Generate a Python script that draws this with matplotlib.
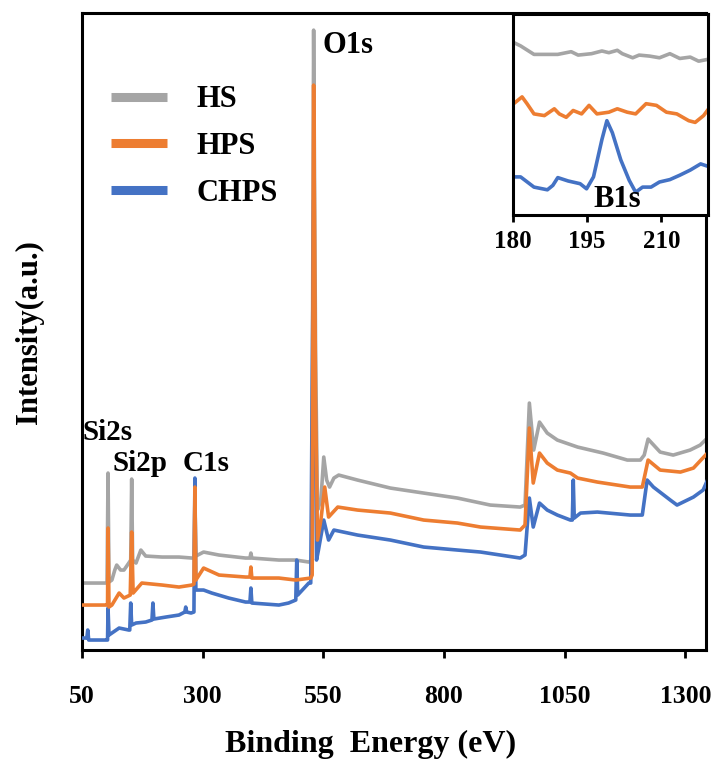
import matplotlib
matplotlib.use('Agg')
import matplotlib.pyplot as plt
from matplotlib.lines import Line2D

plt.rcParams['font.family'] = ['Liberation Serif', 'DejaVu Serif']
plt.rcParams['font.weight'] = 'bold'

# colours of the three samples (Excel palette)
C_HS, C_HPS, C_CHPS = '#A5A5A5', '#ED7D31', '#4472C4'

# ---- survey spectra (eV, a.u.) ----
hs_ev = [50, 100, 102, 104, 106, 112, 118, 122, 130, 137, 147, 151, 153, 155, 162, 172, 182, 216, 251,
         278, 282, 284, 286, 302, 334, 389, 398, 400, 402, 458, 493, 520, 526, 530, 534, 538, 545, 551,
         557, 563, 572, 582, 621, 689, 758, 828, 896, 958, 968, 977, 986, 998, 1014, 1035, 1077, 1130,
         1180, 1207, 1215, 1223, 1248, 1275, 1310, 1331, 1348]
hs_i = [67, 67, 67, 177, 68, 70, 80, 85, 80, 80, 87, 90, 171, 90, 87, 100, 94, 93, 93,
        92, 92, 150, 94, 98, 95, 92, 92, 97, 92, 90, 90, 88, 90, 620, 300, 140, 150, 193,
        170, 163, 172, 175, 170, 162, 157, 152, 145, 143, 145, 247, 200, 228, 217, 210, 203, 197,
        190, 190, 195, 211, 198, 195, 200, 205, 213]

hps_ev = [50, 101, 103, 104, 106, 112, 127, 137, 150, 153, 156, 174, 216, 251, 278, 282, 284, 286, 302,
          334, 389, 398, 400, 402, 458, 493, 524, 527, 530, 534, 538, 545, 553, 561, 580, 621, 689, 758,
          828, 876, 958, 968, 977, 985, 998, 1014, 1035, 1062, 1077, 1118, 1186, 1211, 1223, 1248,
          1290, 1317, 1348]
hps_i = [45, 45, 45, 122, 43, 45, 57, 52, 55, 118, 57, 67, 65, 63, 65, 66, 163, 70, 82,
         75, 73, 73, 83, 72, 72, 70, 72, 75, 565, 250, 110, 130, 163, 133, 143, 140, 137, 130,
         127, 123, 120, 125, 222, 167, 197, 187, 180, 177, 172, 168, 163, 163, 190, 180,
         178, 182, 198]

chps_ev = [50, 60, 62, 64, 101, 103, 104, 106, 127, 147, 149, 151, 153, 162, 182, 195, 197, 199, 224,
           251, 263, 265, 267, 276, 282, 284, 286, 302, 319, 354, 389, 398, 400, 402, 458, 478, 493,
           495, 497, 520, 524, 530, 536, 540, 551, 561, 572, 621, 689, 758, 828, 876, 958, 968, 977,
           985, 998, 1014, 1035, 1062, 1066, 1068, 1070, 1083, 1118, 1186, 1211, 1221, 1234, 1269,
           1283, 1317, 1337, 1348]
chps_i = [12, 12, 20, 10, 10, 10, 42, 15, 22, 20, 20, 47, 25, 27, 28, 30, 47, 31, 33,
          35, 38, 43, 38, 37, 38, 172, 60, 60, 57, 52, 48, 48, 62, 47, 45, 47, 50,
          90, 55, 67, 67, 450, 90, 100, 130, 110, 120, 115, 110, 103, 100, 98, 92, 95, 152,
          123, 147, 140, 135, 130, 130, 170, 132, 137, 138, 135, 135, 170, 163, 150,
          145, 153, 160, 172]

# ---- B1s region (inset) ----
hs_b_ev = [180.2, 181.6, 184.3, 186.4, 189.1, 191.8, 193.2, 195.9, 198.0, 199.4, 201.1, 202.1, 204.2,
           205.5, 207.6, 209.6, 211.7, 213.7, 215.8, 217.5, 219.2]
hs_b_i = [172.5, 169.1, 160.6, 160.6, 160.6, 163.3, 159.9, 161.3, 164.0, 162.3, 164.7, 161.3, 157.2,
          159.9, 158.9, 157.2, 161.3, 156.5, 157.9, 153.8, 155.5]
hps_b_ev = [180.2, 181.9, 182.9, 184.3, 186.4, 188.4, 189.4, 190.8, 192.2, 193.9, 195.4, 197.0, 199.4,
            201.1, 203.1, 204.8, 206.9, 209.0, 211.0, 213.1, 215.5, 216.8, 218.5, 219.6]
hps_b_i = [111.3, 118.1, 111.3, 101.1, 99.4, 106.2, 101.1, 97.7, 104.5, 101.1, 109.6, 101.1, 102.8,
           106.2, 102.8, 101.1, 111.3, 109.6, 102.8, 101.1, 94.3, 92.6, 99.4, 106.8]
chps_b_ev = [180.0, 181.6, 184.3, 187.0, 188.1, 189.1, 191.2, 193.6, 194.9, 196.3, 198.0, 199.0, 200.1,
             201.8, 203.5, 204.8, 206.2, 207.9, 209.6, 211.7, 213.7, 215.8, 217.9, 219.6, 220.6]
chps_b_i = [38.1, 38.1, 27.9, 25.2, 29.6, 37.4, 34.0, 31.3, 26.2, 38.1, 75.5, 94.3, 82.3,
            55.1, 34.7, 22.8, 27.9, 27.9, 33.0, 35.4, 39.8, 44.9, 51.1, 48.3, 46.6]

labels = ['HS', 'HPS', 'CHPS']
main_ticks = [50, 300, 550, 800, 1050, 1300]
inset_ticks = [180, 195, 210]

fig = plt.figure(figsize=(7.14, 7.6), dpi=100)
ax = fig.add_axes([0.1148, 0.1447, 0.874, 0.838])

ax.plot(hs_ev, hs_i, color=C_HS, lw=2.6, zorder=2)
ax.plot(chps_ev, chps_i, color=C_CHPS, lw=2.6, zorder=3)
ax.plot(hps_ev, hps_i, color=C_HPS, lw=2.6, zorder=4)

ax.set_xlim(50, 1343)
ax.set_ylim(0, 637)
ax.set_xticks(main_ticks)
ax.set_yticks([])
ax.tick_params(axis='x', direction='out', length=6, width=2, labelsize=18.5, pad=19)
for s in ax.spines.values():
    s.set_linewidth(2.2)
ax.set_xlabel('Binding  Energy (eV)', fontsize=23, fontweight='bold')
ax.xaxis.set_label_coords(0.463, -0.126)
ax.set_ylabel('Intensity(a.u.)', fontsize=22, fontweight='bold', labelpad=27)

# peak names
ax.text(549, 605, 'O1s', fontsize=22, fontweight='bold', va='center')
ax.text(52, 218, 'Si2s', fontsize=21, fontweight='bold', va='center')
ax.text(113, 187, 'Si2p', fontsize=21, fontweight='bold', va='center')
ax.text(259, 187, 'C1s', fontsize=21, fontweight='bold', va='center')

# legend
hnd = [Line2D([], [], color=c, lw=6.5, solid_capstyle='butt') for c in (C_HS, C_HPS, C_CHPS)]
ax.legend(hnd, labels, loc='upper left', bbox_to_anchor=(0.002, 0.93), frameon=False,
          fontsize=22, handlelength=1.85, handletextpad=0.95, labelspacing=0.58)

# inset: B1s
ins = fig.add_axes([0.718, 0.7171, 0.273, 0.2645])
ins.plot(hs_b_ev, hs_b_i, color=C_HS, lw=2.6)
ins.plot(hps_b_ev, hps_b_i, color=C_HPS, lw=2.6)
ins.plot(chps_b_ev, chps_b_i, color=C_CHPS, lw=2.6)
ins.set_xlim(180, 219.3)
ins.set_ylim(0, 201)
ins.set_xticks(inset_ticks)
ins.set_yticks([])
ins.tick_params(axis='x', direction='out', length=5, width=2, labelsize=18, pad=6)
for s in ins.spines.values():
    s.set_linewidth(2.2)
ins.text(201, 1, 'B1s', fontsize=22, fontweight='bold', ha='center', va='bottom')

fig.savefig('out.png', dpi=100)
